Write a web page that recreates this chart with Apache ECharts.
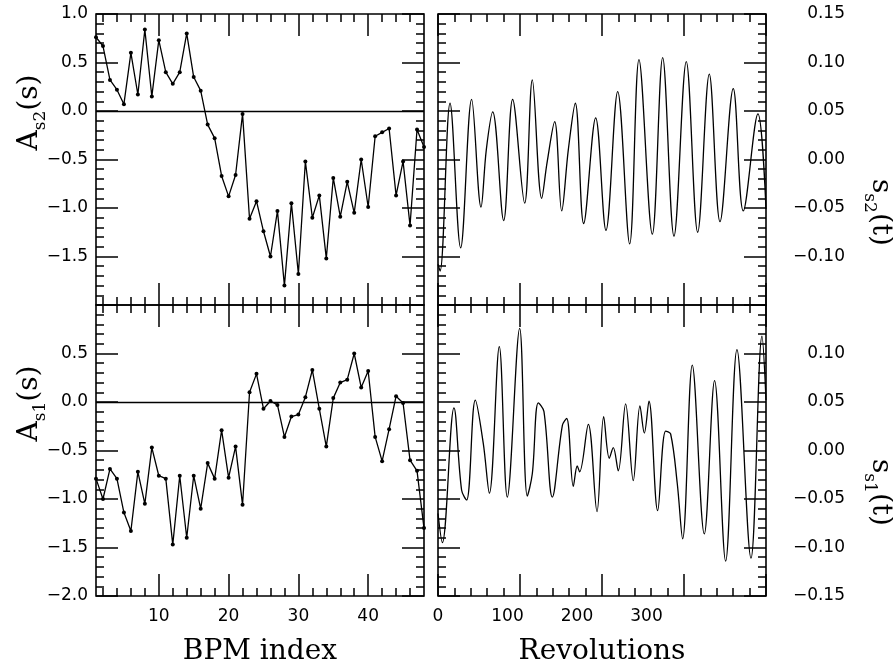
<!DOCTYPE html>
<html><head><meta charset="utf-8">
<script src="https://cdn.jsdelivr.net/npm/echarts@6/dist/echarts.min.js"></script>
<style>html,body{margin:0;padding:0;background:#fff}#c{width:893px;height:667px}</style>
</head><body><div id="c"></div>
<script>
// ---- data ----
const bpmIndex = [1,2,3,4,5,6,7,8,9,10,11,12,13,14,15,16,17,18,19,20,21,22,23,24,25,26,27,28,29,30,31,32,33,34,35,36,37,38,39,40,41,42,43,44,45,46,47,48];
const aS2 = [0.76,0.67,0.32,0.22,0.07,0.60,0.17,0.84,0.15,0.73,0.40,0.28,0.40,0.80,0.35,0.21,-0.14,-0.28,-0.67,-0.88,-0.66,-0.03,-1.11,-0.93,-1.24,-1.50,-1.03,-1.80,-0.95,-1.68,-0.52,-1.10,-0.87,-1.52,-0.69,-1.09,-0.73,-1.05,-0.50,-0.99,-0.26,-0.22,-0.18,-0.87,-0.52,-1.18,-0.19,-0.37];
const aS1 = [-0.79,-1.00,-0.69,-0.79,-1.14,-1.33,-0.72,-1.05,-0.47,-0.76,-0.79,-1.47,-0.76,-1.40,-0.76,-1.10,-0.63,-0.79,-0.29,-0.78,-0.46,-1.06,0.10,0.29,-0.07,0.01,-0.03,-0.36,-0.15,-0.13,0.05,0.33,-0.07,-0.46,0.04,0.20,0.23,0.50,0.15,0.32,-0.36,-0.61,-0.28,0.06,-0.01,-0.60,-0.71,-1.30];

const revS2 = [0,3,17.3,32.6,48.4,61.9,69.5,78.7,94.5,107.4,124.7,135.7,149.2,157,167.9,178,187.5,197.6,209.6,226.9,241.7,258.6,275.8,289.2,308.4,323.3,339.6,357.3,373.7,390.4,405.8,424.9,439.3,460.4,472];
const sS2  = [-0.108,-0.115,0.058,-0.091,0.062,-0.049,0.010,0.049,-0.063,0.062,-0.045,0.082,-0.040,-0.003,0.039,-0.053,0.010,0.058,-0.066,0.043,-0.073,0.070,-0.087,0.103,-0.077,0.105,-0.079,0.101,-0.075,0.088,-0.064,0.073,-0.053,0.047,-0.051];

const revS1 = [0,6.2,23,34,41.2,53.7,65.2,73.9,88.2,99.7,117.5,128.5,135.7,144.3,152.5,164.5,179,185.2,194.7,200.4,203.8,216.3,228.8,238.4,246.5,252.2,259.4,270,281,290.6,296.9,303.6,316.1,327.6,334.8,344.3,352,365.9,383.2,398,413.9,430.2,450.4,466.2,472];
const sS1  = [-0.065,-0.095,0.044,-0.041,-0.051,0.052,0.007,-0.044,0.107,-0.048,0.126,-0.047,-0.024,0.049,0.040,-0.048,0.026,0.033,-0.037,-0.016,-0.022,0.027,-0.063,0.035,-0.008,0.003,-0.021,0.048,-0.031,0.046,0.018,0.051,-0.062,0.020,0.017,-0.034,-0.091,0.088,-0.086,0.072,-0.114,0.104,-0.111,0.118,0.052];

const bpmMajorTicks = [10,20,30,40];
const bpmMinorTicks = [2,4,6,8,12,14,16,18,22,24,26,28,32,34,36,38,42,44,46];
const revLabels = [0,100,200,300];

// ---- layout ----
const grids = [
  {left:96, top:14, width:328, height:291},
  {left:438, top:14, width:328, height:291},
  {left:96, top:305, width:328, height:291},
  {left:438, top:305, width:328, height:291}
];
const tickStyle = {color:'#000', width:1.5};
const labelFont = {fontFamily:'DejaVu Sans', fontSize:17, color:'#000'};
const nameFont = {fontFamily:'DejaVu Serif', fontSize:28, color:'#000'};
const rich = {
  m:{fontFamily:'DejaVu Serif', fontSize:28, color:'#000', lineHeight:28, verticalAlign:'top'},
  s:{fontFamily:'DejaVu Serif', fontSize:17, color:'#000', lineHeight:50, verticalAlign:'middle'}
};
const fmt1 = v => (v < -1e-9 ? '\u2212' : '') + Math.abs(v).toFixed(1);
const fmt2 = v => (v < -1e-9 ? '\u2212' : '') + Math.abs(v).toFixed(2);

const xAxis = [], yAxis = [], dataX = [], dataY = [];
function baseX(gi, pos, extra){
  return Object.assign({gridIndex:gi, type:'value', position:pos, axisLine:{show:false, onZero:false},
    splitLine:{show:false}, axisLabel:{show:false}, axisTick:{show:false}, nameMoveOverlap:false}, extra);
}
grids.forEach((g, gi) => {
  const isLeft = (gi % 2 === 0), isBottom = gi >= 2;
  if (isLeft) {
    dataX[gi] = xAxis.length;
    xAxis.push(baseX(gi, 'bottom', {min:1, max:48,
      axisTick:{show:true, inside:true, length:22, customValues:bpmMajorTicks, lineStyle:tickStyle},
      axisLabel:{show:isBottom, customValues:bpmMajorTicks, margin:12, ...labelFont},
      name: isBottom ? 'BPM index' : '', nameLocation:'middle', nameGap:42, nameTextStyle:nameFont}));
    xAxis.push(baseX(gi, 'bottom', {min:1, max:48,
      axisTick:{show:true, inside:true, length:8, customValues:bpmMinorTicks, lineStyle:tickStyle}}));
    xAxis.push(baseX(gi, 'top', {min:1, max:48,
      axisTick:{show:true, inside:true, length:22, customValues:bpmMajorTicks, lineStyle:tickStyle}}));
    xAxis.push(baseX(gi, 'top', {min:1, max:48,
      axisTick:{show:true, inside:true, length:8, customValues:bpmMinorTicks, lineStyle:tickStyle}}));
  } else {
    dataX[gi] = xAxis.length;
    xAxis.push(baseX(gi, 'bottom', {min:0, max:472,
      axisLabel:{show:isBottom, customValues:revLabels, margin:12, ...labelFont},
      name: isBottom ? 'Revolutions' : '', nameLocation:'middle', nameGap:42, nameTextStyle:nameFont}));
    ['bottom','top'].forEach(p => xAxis.push(baseX(gi, p, {min:0, max:20, interval:5,
      axisTick:{show:true, inside:true, length:22, lineStyle:tickStyle},
      minorTick:{show:true, splitNumber:5, length:8, lineStyle:tickStyle}})));
  }
  const ymin = isLeft ? -2 : -0.15, ymax = isLeft ? 1 : 0.15, yint = isLeft ? 0.5 : 0.05;
  ['left','right'].forEach(p => {
    const showLab = (isLeft && p === 'left') || (!isLeft && p === 'right');
    const ax = {gridIndex:gi, type:'value', position:p, min:ymin, max:ymax, interval:yint,
      axisLine:{show:false, onZero:false}, splitLine:{show:false}, nameMoveOverlap:false,
      axisTick:{show:true, inside:true, length:22, lineStyle:tickStyle},
      minorTick:{show:true, splitNumber:5, length:8, lineStyle:tickStyle},
      axisLabel:{show:showLab, formatter: isLeft ? fmt1 : fmt2, ...labelFont,
        align:'right', margin: p === 'left' ? 8 : 79,
        showMinLabel: !isBottom ? false : true, showMaxLabel: isBottom ? false : true}
    };
    if (showLab) {
      ax.nameLocation = 'middle';
      if (isLeft) {
        ax.name = isBottom ? '{m|A}{s|s1}{m|(s)}' : '{m|A}{s|s2}{m|(s)}';
        ax.nameRotate = 90; ax.nameGap = 30;
        ax.nameTextStyle = {rich, padding:[0,0,0,94]};
      } else {
        ax.name = isBottom ? '{m|s}{s|s1}{m|(t)}' : '{m|s}{s|s2}{m|(t)}';
        ax.nameRotate = -90; ax.nameGap = 78;
        ax.nameTextStyle = {rich, padding:[0,0,0,isBottom ? 84 : 106]};
      }
    }
    if (p === 'left') dataY[gi] = yAxis.length;
    yAxis.push(ax);
  });
});

const zeroLine = {silent:true, symbol:['none','none'], label:{show:false},
  lineStyle:{color:'#000', type:'solid', width:1.3}, data:[{yAxis:0}]};
const lineS = (gi, xs, ys, bpm) => ({
  type:'line', xAxisIndex:dataX[gi], yAxisIndex:dataY[gi],
  data: xs.map((x,i)=>[x, ys[i]]),
  symbol: bpm ? 'circle' : 'none', symbolSize: 4, showSymbol: bpm,
  smooth: bpm ? false : 0.36,
  lineStyle:{color:'#000', width:1.3}, itemStyle:{color:'#000'},
  markLine: bpm ? zeroLine : undefined, animation:false
});

const option = {
  animation:false, backgroundColor:'#fff',
  grid: grids.map(g => Object.assign({show:true, borderColor:'#000', borderWidth:1.6,
    backgroundColor:'transparent', containLabel:false, outerBoundsMode:'none'}, g)),
  xAxis, yAxis,
  series:[
    lineS(0, bpmIndex, aS2, true),
    lineS(2, bpmIndex, aS1, true),
    lineS(1, revS2, sS2, false),
    lineS(3, revS1, sS1, false)
  ]
};
const chart = echarts.init(document.getElementById('c'), null, {renderer:'canvas'});
chart.setOption(option);
</script></body></html>
